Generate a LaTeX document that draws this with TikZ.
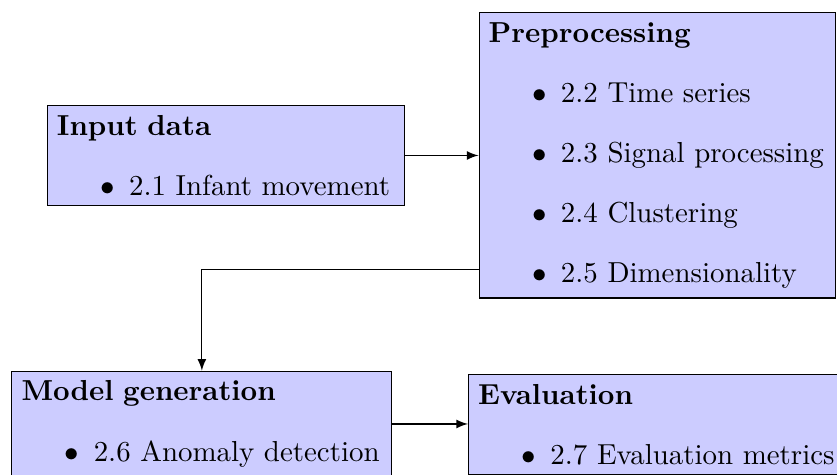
\documentclass[tikz,border=0pt]{standalone}
\usetikzlibrary{calc}

\renewcommand\labelitemi{$\bullet$}
% box body: bold heading followed by a bullet list
\newcommand\stagetext[2]{\textbf{#1}%
  \begin{itemize}\setlength\itemsep{4.8pt}\vspace{0.8pt}#2\end{itemize}}

\begin{document}
\begin{tikzpicture}[x=0.346pt, y=-0.346pt,
  stage/.style={draw=black, line width=0.4pt, fill=blue!20, text width=#1,
    align=left, inner sep=3.333pt, anchor=north west},
  flow/.style={-latex, line width=0.4pt}]

  \useasboundingbox (0,0) rectangle (837,474);

  \node[stage=116.8pt] (input) at (46.7,105)
    {\stagetext{Input data}{\item 2.1 Infant movement}};
  \node[stage=116.7pt] (pre) at (478.5,12)
    {\stagetext{Preprocessing}{\item 2.2 Time series
      \item 2.3 Signal processing
      \item 2.4 Clustering
      \item 2.5 Dimensionality}};
  \node[stage=124.8pt] (model) at (11.3,370.7)
    {\stagetext{Model generation}{\item 2.6 Anomaly detection}};
  \node[stage=124.4pt] (eval) at (468,374.3)
    {\stagetext{Evaluation}{\item 2.7 Evaluation metrics}};

  % connectors
  \coordinate (preout) at ($(pre.south west)+(0,-29)$);
  \draw[flow] (input.east) -- (input.east -| pre.west);
  \draw[flow] (preout) -| (model.north);
  \draw[flow] (model.east) -- (model.east -| eval.west);
\end{tikzpicture}
\end{document}
